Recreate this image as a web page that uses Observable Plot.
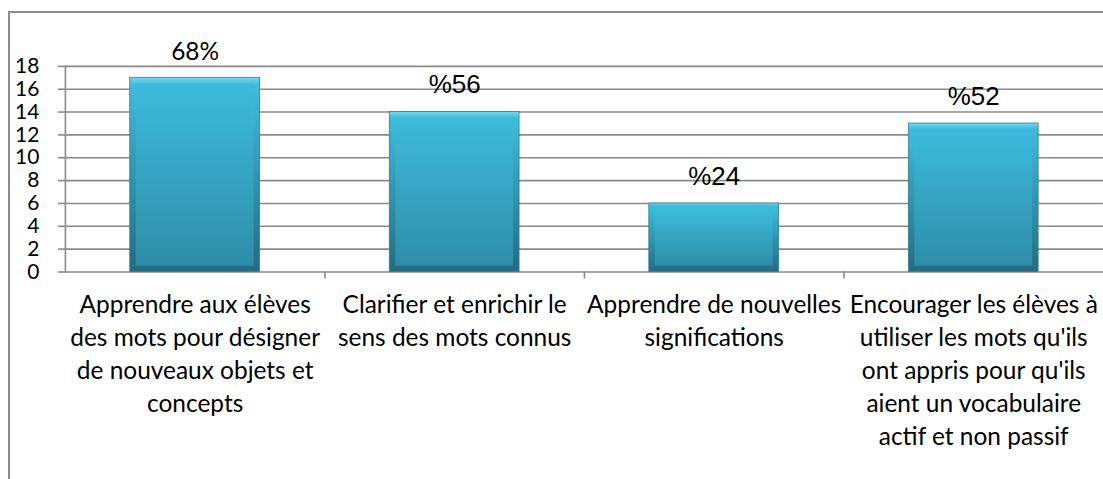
<!DOCTYPE html>
<html>
<head>
<meta charset="utf-8">
<script src="https://cdn.jsdelivr.net/npm/d3@7"></script>
<script src="https://cdn.jsdelivr.net/npm/@observablehq/plot@0.6"></script>
<style>
  html, body { margin: 0; padding: 0; background: #fff; overflow: hidden; width: 1103px; height: 479px; }
  #wrap { position: relative; width: 1103px; height: 479px; overflow: hidden; }
  #border { position: absolute; left: 8px; top: 11px; width: 1300px; height: 700px; border: 2px solid #8c8c8c; pointer-events: none; }
  #chart { position: absolute; left: 0; top: 0; }
</style>
</head>
<body>
<div id="wrap"><div id="chart"></div><div id="border"></div></div>
<script>
const categories = [
  "Apprendre aux élèves\ndes mots pour désigner\nde nouveaux objets et\nconcepts",
  "Clarifier et enrichir le\nsens des mots connus",
  "Apprendre de nouvelles\nsignifications",
  "Encourager les élèves à\nutiliser les mots qu'ils\nont appris pour qu'ils\naient un vocabulaire\nactif et non passif"
];
const values = [17, 14, 6, 13];
const valueLabels = ["68%", "%56", "%24", "%52"];
const yTicks = [0, 2, 4, 6, 8, 10, 12, 14, 16, 18];

const data = categories.map((c, i) => ({category: c, value: values[i], label: valueLabels[i], i}));

const W = 1105, ML = 65, MR = 0;
const halfStep = (W - ML - MR) / categories.length / 2;

const chart = Plot.plot({
  width: W,
  height: 479,
  marginLeft: ML,
  marginRight: MR,
  marginTop: 66,
  marginBottom: 207,
  style: {background: "transparent", overflow: "visible"},
  x: {domain: categories, paddingInner: 0.5, paddingOuter: 0.25, axis: null},
  y: {domain: [0, 18], axis: null},
  marks: [
    Plot.gridY(yTicks, {stroke: "#8a8a8a", strokeOpacity: 1, strokeWidth: 1.6}),
    Plot.axisY(yTicks, {label: null, tickSize: 7, tickPadding: 19, stroke: "#8a8a8a", strokeWidth: 1.6, fontSize: 21, fontFamily: "Lato", fill: "#000"}),
    Plot.ruleX(categories.slice(1), {x: d => d, y1: 0, y2: 0, insetBottom: -7, dx: -halfStep, stroke: "#8a8a8a", strokeWidth: 1.6}),
    Plot.frame({anchor: "left", stroke: "#8a8a8a", strokeWidth: 1.6}),
    Plot.barY(data, {x: "category", y: "value", fill: "url(#edgeGrad)", stroke: "#2b7f97", strokeWidth: 0.8}),
    Plot.barY(data, {x: "category", y: "value", fill: "url(#bodyGrad)", inset: 6}),
    Plot.text(data.filter(d => d.i === 0), {x: "category", y: "value", text: "label", dy: -26, fontSize: 24.5, fontFamily: "Lato", fill: "#000"}),
    Plot.text(data.filter(d => d.i !== 0), {x: "category", y: "value", text: "label", dy: -27, fontSize: 26, fontFamily: "Liberation Sans", fill: "#000"}),
    Plot.text(data, {x: "category", y: 0, text: "category", lineAnchor: "top", dy: 18, lineHeight: 1.345, fontSize: 24.5, fontFamily: "Lato", fill: "#000"})
  ]
});

const svg = d3.select(chart);
const defs = svg.insert("defs", ":first-child");
const eg = defs.append("linearGradient").attr("id", "edgeGrad").attr("x1", 0).attr("y1", 0).attr("x2", 0).attr("y2", 1);
eg.append("stop").attr("offset", "0%").attr("stop-color", "#74d8ef");
eg.append("stop").attr("offset", "4%").attr("stop-color", "#40bcdb");
eg.append("stop").attr("offset", "100%").attr("stop-color", "#226c83");
const bg = defs.append("linearGradient").attr("id", "bodyGrad").attr("x1", 0).attr("y1", 0).attr("x2", 0).attr("y2", 1);
bg.append("stop").attr("offset", "0%").attr("stop-color", "#3dbbdb");
bg.append("stop").attr("offset", "100%").attr("stop-color", "#2e8ea9");

document.getElementById("chart").appendChild(chart);
</script>
</body>
</html>
